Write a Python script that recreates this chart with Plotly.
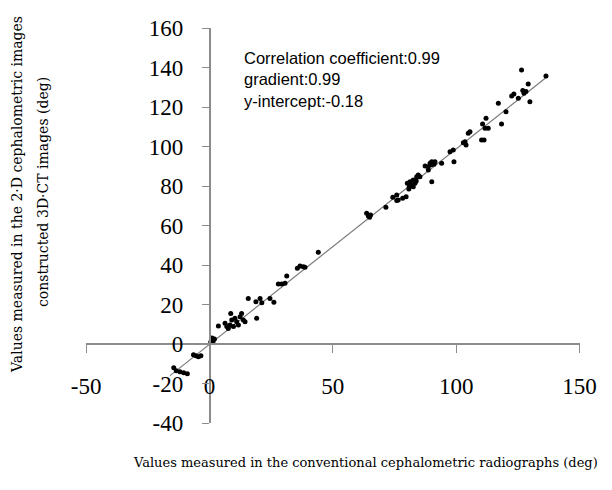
import plotly.graph_objects as go

# ---- data ----
x_vals = [-14.5, -13.5, -12, -10.5, -9,
          -6.5, -5.5, -4.5, -3.5,
          0.5, 1, 1.5, 2, 1,
          3.6, 6.3, 7, 7.6, 8.3, 8.6, 9, 9.7, 10.3, 11, 11.7, 12.4, 13, 13.7, 14.4, 19.1,
          15.7, 18.8, 20.5, 21.2, 24.5, 26.1, 27.9, 29.3, 30.6, 31.3,
          35.6, 36.7, 38, 38.7, 44.1,
          63.7, 64.4, 65.3, 64.9, 71.5, 74.3, 75.9, 75.9, 76.5, 78.3, 79.7,
          80.2, 81.3, 82, 82.6, 83.3, 84, 84.6, 81, 82.6, 85.3, 80.8, 83.8,
          87.4, 88.7, 89.4, 90.1, 90.8, 91.4, 88.7, 90.1, 94.1, 89.9, 91.0,
          97.5, 98.8, 99.1, 102.9, 104, 104.9, 105.6,
          103.6, 110.3, 111.3, 110.7, 111.7, 113, 112.1, 117.1, 118.4, 120.2,
          122.5, 123.4, 125.2, 126.5, 127, 127.5, 128.3, 129.2, 129.9, 136.4]
y_vals = [-12, -13.5, -14, -14.5, -15,
          -5.5, -6, -6.5, -6,
          1, 2, 1.5, 2.5, 3,
          9.1, 10.5, 8.8, 7.9, 9.6, 15.5, 12.2, 8.8, 13, 11.3, 9.6, 13.8, 15.5, 12.2, 11.3, 13,
          23.1, 21.4, 23.1, 20.9, 23.1, 21.1, 30.4, 30.4, 30.7, 34.4,
          38.3, 39.5, 39.1, 38.8, 46.5,
          66.2, 64.8, 65.3, 64.2, 69.3, 74.3, 75.4, 72.6, 72.9, 73.8, 74.6,
          81.4, 82.2, 80.5, 83, 81.4, 84.7, 85.6, 79.6, 79.6, 84.7, 78.5, 82.5,
          90.1, 89.8, 91.5, 92.3, 91.5, 92.3, 88.1, 82.2, 91.5, 90.8, 91.0,
          97.4, 98.2, 92.3, 101.9, 100.8, 106.7, 107.5,
          102.4, 103.3, 103.3, 111.4, 109.2, 109.2, 114.3, 121.9, 111.4, 117.6,
          125.6, 126.6, 124.4, 138.7, 128.3, 126.9, 127.8, 131.6, 122.7, 135.7]

gradient = 0.99
intercept = -0.18
fit_x = [-16, 137]
fit_y = [gradient * v + intercept for v in fit_x]

x_ticks = [-50, 0, 50, 100, 150]
x_ticktext = ["-50", "0", "50", "100", "150"]
y_ticks = [-40, -20, 0, 20, 40, 60, 80, 100, 120, 140, 160]
y_ticktext = ["-40", "-20", "0", "20", "40", "60", "80", "100", "120", "140", "160"]

stats_text = ["Correlation coefficient:0.99", "gradient:0.99", "y-intercept:-0.18"]
x_title = "Values measured in the conventional cephalometric radiographs (deg)"
y_title_1 = "Values measured in the 2\u00b7D cephalometric images"
y_title_2 = "constructed 3D\u00b7CT images (deg)"

W, H = 612, 490
xdom = [86.2 / W, 579.5 / W]
ydom = [1 - 423 / H, 1 - 28 / H]
x_range = [-50, 150]
y_range = [-40, 160]
x_axis_pos = ydom[0] + (0 - y_range[0]) / (y_range[1] - y_range[0]) * (ydom[1] - ydom[0])
y_axis_pos = xdom[0] + (0 - x_range[0]) / (x_range[1] - x_range[0]) * (xdom[1] - xdom[0])

serif = "Liberation Serif, Times New Roman, serif"
title_serif = "DejaVu Serif, serif"
sans = "Liberation Sans, Arial, sans-serif"
axis_col = "#8c8c8c"

fig = go.Figure()
fig.add_trace(go.Scatter(x=fit_x, y=fit_y, mode="lines",
                         line=dict(color="#7a7a7a", width=1.2), hoverinfo="skip"))
fig.add_trace(go.Scatter(x=x_vals, y=y_vals, mode="markers",
                         marker=dict(color="black", size=5)))

fig.update_layout(
    width=W, height=H, margin=dict(l=0, r=0, t=0, b=0, autoexpand=False),
    paper_bgcolor="white", plot_bgcolor="white", showlegend=False,
    xaxis=dict(domain=xdom, range=x_range, anchor="free", position=x_axis_pos,
               tickvals=x_ticks, ticktext=x_ticktext, ticks="outside", ticklen=8,
               tickcolor=axis_col, automargin=False,
               tickwidth=1.3, showline=True, linecolor=axis_col, linewidth=1.5,
               showgrid=False, zeroline=False, ticklabelstandoff=14,
               tickfont=dict(family=serif, size=23, color="black")),
    yaxis=dict(domain=ydom, range=y_range, anchor="free", position=y_axis_pos,
               tickvals=y_ticks, ticktext=y_ticktext, ticks="outside", ticklen=7,
               tickcolor=axis_col, automargin=False,
               tickwidth=1.3, showline=True, linecolor=axis_col, linewidth=1.5,
               showgrid=False, zeroline=False, ticklabelstandoff=14,
               tickfont=dict(family=serif, size=23, color="black")),
    annotations=[
        dict(text="<br>".join(stats_text), xref="paper", yref="paper",
             x=242 / W, y=1 - 47 / H, xanchor="left", yanchor="top", align="left",
             showarrow=False, font=dict(family=sans, size=16.5, color="black")),
        dict(text=x_title, xref="paper", yref="paper", x=365 / W, y=1 - 462 / H,
             xanchor="center", yanchor="middle", showarrow=False,
             font=dict(family=title_serif, size=13, color="black")),
        dict(text=y_title_1, xref="paper", yref="paper", x=17 / W, y=1 - 195 / H,
             xanchor="center", yanchor="middle", textangle=-90, showarrow=False,
             font=dict(family=title_serif, size=14, color="black")),
        dict(text=y_title_2, xref="paper", yref="paper", x=43 / W, y=1 - 192 / H,
             xanchor="center", yanchor="middle", textangle=-90, showarrow=False,
             font=dict(family=title_serif, size=14, color="black")),
    ],
)

fig.write_html("out.html", config={"displayModeBar": False},
               post_script="document.body.style.margin='0';document.body.style.overflow='hidden';")
